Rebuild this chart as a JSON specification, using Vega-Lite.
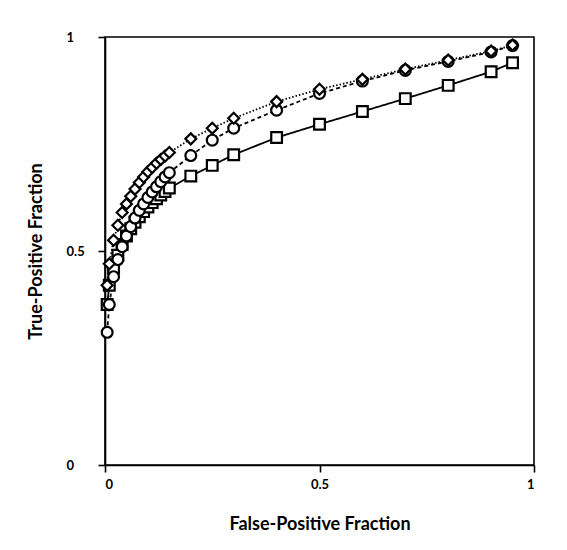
{
  "$schema": "https://vega.github.io/schema/vega-lite/v6.json",
  "width": 429,
  "height": 428,
  "autosize": "none",
  "padding": {"left": 105, "top": 37, "right": 33, "bottom": 85},
  "background": "white",
  "config": {
    "view": {"stroke": "black", "strokeWidth": 1.6},
    "font": "Lato",
    "axis": {
      "grid": false,
      "domainColor": "black",
      "domainWidth": 1.6,
      "tickColor": "black",
      "tickWidth": 1.6,
      "tickSize": 7,
      "labelFont": "Lato",
      "labelFontWeight": "bold",
      "labelFontSize": 13,
      "labelColor": "black",
      "titleFont": "Lato",
      "titleFontWeight": "bold",
      "titleFontSize": 18,
      "titleColor": "black"
    }
  },
  "data": {
    "values": [
      {"s": "A", "fpf": 0.005, "tpf": 0.375}, {"s": "A", "fpf": 0.01, "tpf": 0.42}, {"s": "A", "fpf": 0.02, "tpf": 0.46}, {"s": "A", "fpf": 0.03, "tpf": 0.49}, {"s": "A", "fpf": 0.04, "tpf": 0.515}, {"s": "A", "fpf": 0.05, "tpf": 0.535}, {"s": "A", "fpf": 0.06, "tpf": 0.552}, {"s": "A", "fpf": 0.07, "tpf": 0.567}, {"s": "A", "fpf": 0.08, "tpf": 0.58}, {"s": "A", "fpf": 0.09, "tpf": 0.592}, {"s": "A", "fpf": 0.10, "tpf": 0.603}, {"s": "A", "fpf": 0.11, "tpf": 0.613}, {"s": "A", "fpf": 0.12, "tpf": 0.622}, {"s": "A", "fpf": 0.13, "tpf": 0.631}, {"s": "A", "fpf": 0.14, "tpf": 0.639}, {"s": "A", "fpf": 0.15, "tpf": 0.647}, {"s": "A", "fpf": 0.2, "tpf": 0.675}, {"s": "A", "fpf": 0.25, "tpf": 0.70}, {"s": "A", "fpf": 0.3, "tpf": 0.725}, {"s": "A", "fpf": 0.4, "tpf": 0.765}, {"s": "A", "fpf": 0.5, "tpf": 0.796}, {"s": "A", "fpf": 0.6, "tpf": 0.826}, {"s": "A", "fpf": 0.7, "tpf": 0.856}, {"s": "A", "fpf": 0.8, "tpf": 0.887}, {"s": "A", "fpf": 0.9, "tpf": 0.919}, {"s": "A", "fpf": 0.95, "tpf": 0.94},
      {"s": "B", "fpf": 0.005, "tpf": 0.31}, {"s": "B", "fpf": 0.01, "tpf": 0.375}, {"s": "B", "fpf": 0.02, "tpf": 0.44}, {"s": "B", "fpf": 0.03, "tpf": 0.48}, {"s": "B", "fpf": 0.04, "tpf": 0.51}, {"s": "B", "fpf": 0.05, "tpf": 0.535}, {"s": "B", "fpf": 0.06, "tpf": 0.557}, {"s": "B", "fpf": 0.07, "tpf": 0.577}, {"s": "B", "fpf": 0.08, "tpf": 0.595}, {"s": "B", "fpf": 0.09, "tpf": 0.61}, {"s": "B", "fpf": 0.10, "tpf": 0.625}, {"s": "B", "fpf": 0.11, "tpf": 0.638}, {"s": "B", "fpf": 0.12, "tpf": 0.65}, {"s": "B", "fpf": 0.13, "tpf": 0.662}, {"s": "B", "fpf": 0.14, "tpf": 0.673}, {"s": "B", "fpf": 0.15, "tpf": 0.683}, {"s": "B", "fpf": 0.2, "tpf": 0.723}, {"s": "B", "fpf": 0.25, "tpf": 0.759}, {"s": "B", "fpf": 0.3, "tpf": 0.787}, {"s": "B", "fpf": 0.4, "tpf": 0.829}, {"s": "B", "fpf": 0.5, "tpf": 0.868}, {"s": "B", "fpf": 0.6, "tpf": 0.897}, {"s": "B", "fpf": 0.7, "tpf": 0.922}, {"s": "B", "fpf": 0.8, "tpf": 0.943}, {"s": "B", "fpf": 0.9, "tpf": 0.965}, {"s": "B", "fpf": 0.95, "tpf": 0.98},
      {"s": "C", "fpf": 0.005, "tpf": 0.42}, {"s": "C", "fpf": 0.01, "tpf": 0.47}, {"s": "C", "fpf": 0.02, "tpf": 0.525}, {"s": "C", "fpf": 0.03, "tpf": 0.56}, {"s": "C", "fpf": 0.04, "tpf": 0.59}, {"s": "C", "fpf": 0.05, "tpf": 0.61}, {"s": "C", "fpf": 0.06, "tpf": 0.628}, {"s": "C", "fpf": 0.07, "tpf": 0.645}, {"s": "C", "fpf": 0.08, "tpf": 0.66}, {"s": "C", "fpf": 0.09, "tpf": 0.673}, {"s": "C", "fpf": 0.10, "tpf": 0.685}, {"s": "C", "fpf": 0.11, "tpf": 0.695}, {"s": "C", "fpf": 0.12, "tpf": 0.705}, {"s": "C", "fpf": 0.13, "tpf": 0.714}, {"s": "C", "fpf": 0.14, "tpf": 0.722}, {"s": "C", "fpf": 0.15, "tpf": 0.73}, {"s": "C", "fpf": 0.2, "tpf": 0.762}, {"s": "C", "fpf": 0.25, "tpf": 0.787}, {"s": "C", "fpf": 0.3, "tpf": 0.81}, {"s": "C", "fpf": 0.4, "tpf": 0.849}, {"s": "C", "fpf": 0.5, "tpf": 0.878}, {"s": "C", "fpf": 0.6, "tpf": 0.901}, {"s": "C", "fpf": 0.7, "tpf": 0.925}, {"s": "C", "fpf": 0.8, "tpf": 0.946}, {"s": "C", "fpf": 0.9, "tpf": 0.967}, {"s": "C", "fpf": 0.95, "tpf": 0.981}
    ]
  },
  "encoding": {
    "x": {
      "field": "fpf", "type": "quantitative",
      "scale": {"domain": [0, 1], "nice": false},
      "axis": {"values": [0, 0.5, 1], "format": ".1~f", "title": "False-Positive Fraction", "labelPadding": 6, "titlePadding": 24}
    },
    "y": {
      "field": "tpf", "type": "quantitative",
      "scale": {"domain": [0, 1], "nice": false},
      "axis": {"values": [0, 0.5, 1], "format": ".1~f", "title": "True-Positive Fraction", "labelAlign": "left", "labelPadding": 32, "titlePadding": 21}
    }
  },
  "layer": [
    {
      "mark": {"type": "line", "color": "black", "strokeWidth": 1.8},
      "encoding": {
        "detail": {"field": "s"},
        "strokeDash": {
          "field": "s", "type": "nominal", "legend": null,
          "scale": {"domain": ["A", "B", "C"], "range": [[1, 0], [4, 3], [1.5, 2]]}
        }
      }
    },
    {
      "mark": {"type": "point", "filled": false, "fill": "white", "fillOpacity": 1, "stroke": "black", "strokeWidth": 2.2, "opacity": 1},
      "encoding": {
        "shape": {
          "field": "s", "type": "nominal", "legend": null,
          "scale": {"domain": ["A", "B", "C"], "range": ["square", "circle", "diamond"]}
        },
        "size": {
          "field": "s", "type": "nominal", "legend": null,
          "scale": {"domain": ["A", "B", "C"], "range": [115, 120, 170]}
        }
      }
    }
  ]
}
